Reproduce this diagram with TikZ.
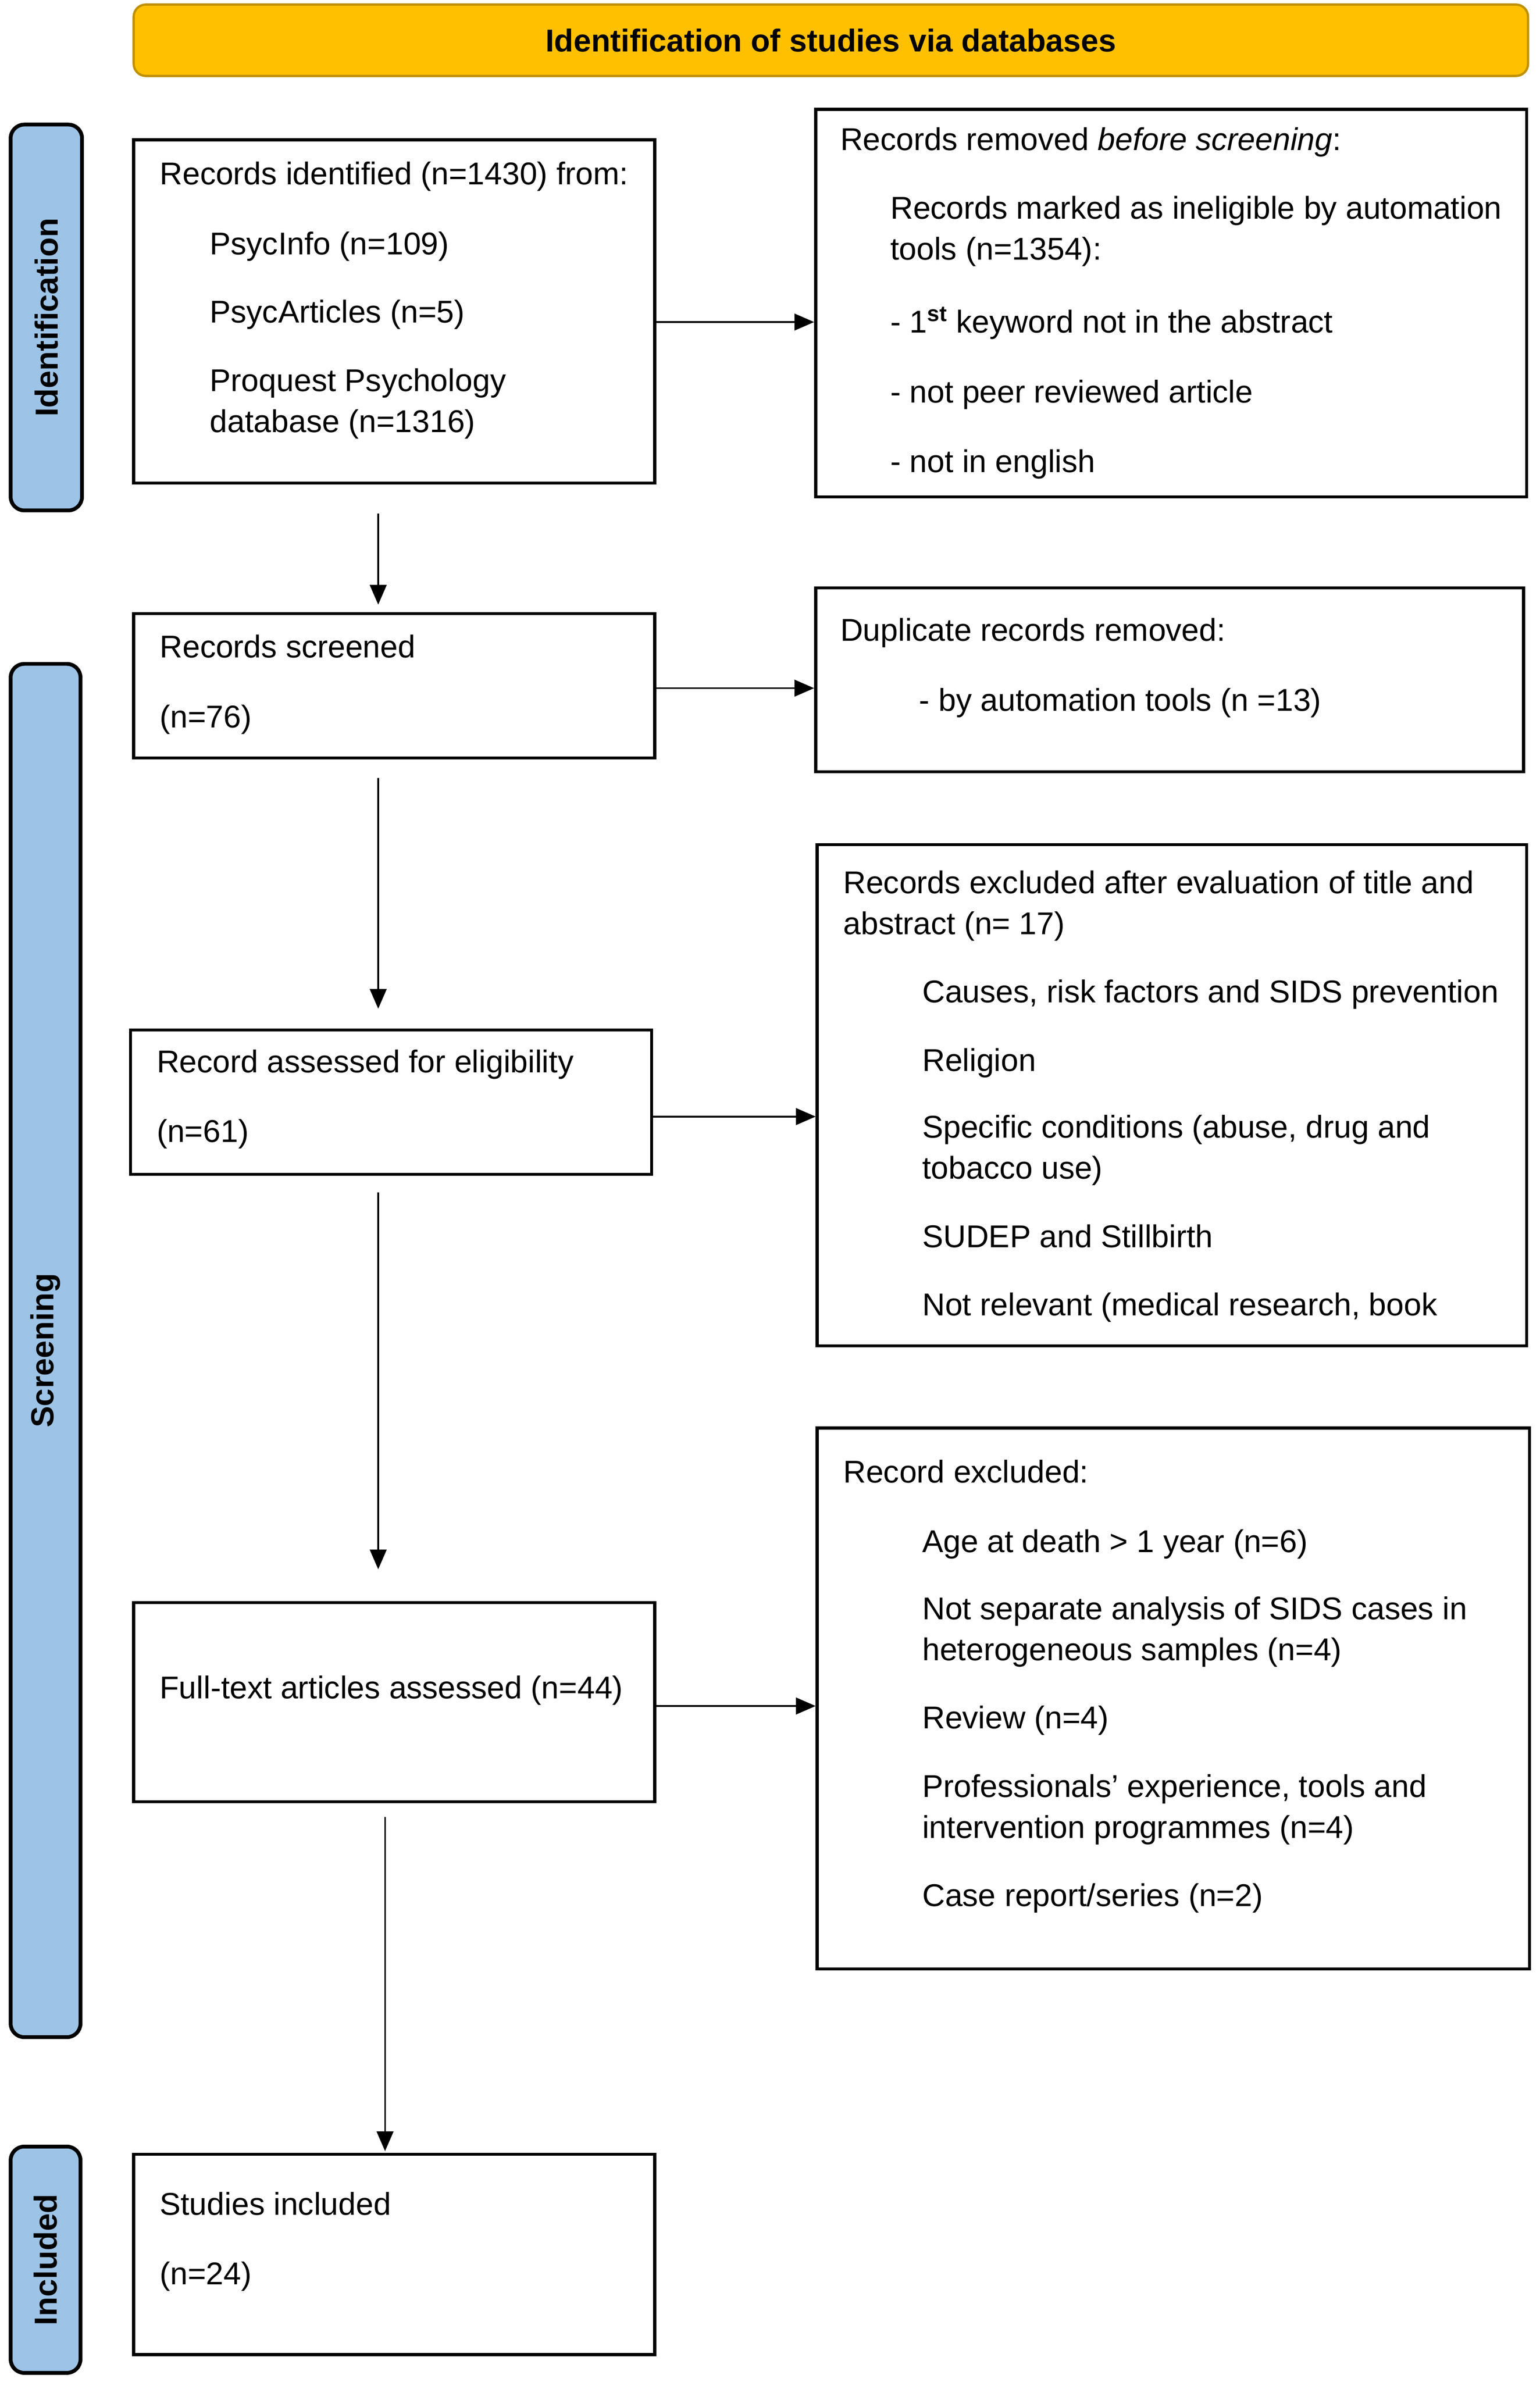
\documentclass[tikz,border=0pt]{standalone}
\usepackage{fontspec}
\setmainfont{Liberation Sans}
\usetikzlibrary{arrows.meta,calc}
\definecolor{gold}{HTML}{FFC000}
\definecolor{goldline}{HTML}{BF9000}
\definecolor{sideblue}{HTML}{9DC3E6}
\begin{document}
\begin{tikzpicture}[x=1pt,y=-1pt,
  box/.style={draw=black, line width=2pt, rectangle, inner sep=0pt, fill=white},
  banner/.style={draw=goldline, line width=1.5pt, fill=gold, rounded corners=8pt, inner sep=0pt,
    minimum width=918pt, minimum height=47pt, font=\fontsize{20.8}{25}\selectfont\bfseries},
  side/.style={draw=black, line width=2.5pt, fill=sideblue, rounded corners=9pt, inner sep=0pt,
    rotate=90, font=\fontsize{21}{25}\selectfont\bfseries},
  txt/.style={anchor=base west, inner sep=0pt, font=\fontsize{20.75}{27}\selectfont},
  arr/.style={-{Triangle[length=13pt,width=11pt]}, line width=1.1pt},
]
\useasboundingbox (0,0) rectangle (1013.66,1568);

% banner
\node[banner] (top) at (547,26.5) {Identification of studies via databases};

% side bars
\node[side, minimum width=254pt, minimum height=47pt] (sid) at (30.5,209) {Identification};
\node[side, minimum width=904pt, minimum height=46pt] (sscr) at (30,889) {Screening};
\node[side, minimum width=149pt, minimum height=46pt] (sinc) at (30,1487.5) {Included};

% left boxes
\node[box, minimum width=343pt, minimum height=226pt] (b1) at (259.5,205) {};
\node[box, minimum width=343pt, minimum height=95pt] (b2) at (259.5,451.5) {};
\node[box, minimum width=343pt, minimum height=95pt] (b3) at (257.5,725.5) {};
\node[box, minimum width=343pt, minimum height=131pt] (b4) at (259.5,1120.5) {};
\node[box, minimum width=343pt, minimum height=132pt] (b5) at (259.5,1484) {};

% right boxes
\node[box, minimum width=468pt, minimum height=255pt] (r1) at (771,199.5) {};
\node[box, minimum width=466pt, minimum height=121pt] (r2) at (770,447.5) {};
\node[box, minimum width=467pt, minimum height=330pt] (r3) at (771.5,721) {};
\node[box, minimum width=469pt, minimum height=356pt] (r4) at (772.5,1118) {};

% texts
\node[txt] (b1t) at (105,121.5) {\begin{tabular}[t]{@{}l@{}}
Records identified (n=1430) from:\\[19pt]
\hspace*{33pt}PsycInfo (n=109)\\[18pt]
\hspace*{33pt}PsycArticles (n=5)\\[18pt]
\hspace*{33pt}Proquest Psychology\\
\hspace*{33pt}database (n=1316)
\end{tabular}};

\node[txt] (b2t) at (105,433) {\begin{tabular}[t]{@{}l@{}}
Records screened\\[19pt]
(n=76)
\end{tabular}};

\node[txt] (b3t) at (103,706) {\begin{tabular}[t]{@{}l@{}}
Record assessed for eligibility\\[19pt]
(n=61)
\end{tabular}};

\node[txt] (b4t) at (105,1118) {Full-text articles assessed (n=44)};

\node[txt] (b5t) at (105,1458) {\begin{tabular}[t]{@{}l@{}}
Studies included\\[19pt]
(n=24)
\end{tabular}};

\node[txt] (r1t) at (553,99) {\begin{tabular}[t]{@{}l@{}}
Records removed \textit{before screening}:\\[18pt]
\hspace*{33pt}Records marked as ineligible by automation\\
\hspace*{33pt}tools (n=1354):\\[21pt]
\hspace*{33pt}- 1\textsuperscript{\textbf{st}} keyword not in the abstract\\[19pt]
\hspace*{33pt}- not peer reviewed article\\[19pt]
\hspace*{33pt}- not in english
\end{tabular}};

\node[txt] (r2t) at (553,422) {\begin{tabular}[t]{@{}l@{}}
Duplicate records removed:\\[19pt]
\hspace*{52pt}- by automation tools (n =13)
\end{tabular}};

\node[txt] (r3t) at (555,588) {\begin{tabular}[t]{@{}l@{}}
Records excluded after evaluation of title and\\
abstract (n= 17)\\[18pt]
\hspace*{52pt}Causes, risk factors and SIDS prevention\\[18pt]
\hspace*{52pt}Religion\\[17pt]
\hspace*{52pt}Specific conditions (abuse, drug and\\
\hspace*{52pt}tobacco use)\\[18pt]
\hspace*{52pt}SUDEP and Stillbirth\\[18pt]
\hspace*{52pt}Not relevant (medical research, book
\end{tabular}};

\node[txt] (r4t) at (555,976) {\begin{tabular}[t]{@{}l@{}}
Record excluded:\\[19pt]
\hspace*{52pt}Age at death > 1 year (n=6)\\[17pt]
\hspace*{52pt}Not separate analysis of SIDS cases in\\
\hspace*{52pt}heterogeneous samples (n=4)\\[18pt]
\hspace*{52pt}Review (n=4)\\[18pt]
\hspace*{52pt}Professionals’ experience, tools and\\
\hspace*{52pt}intervention programmes (n=4)\\[18pt]
\hspace*{52pt}Case report/series (n=2)
\end{tabular}};

% horizontal connectors
\coordinate (h1s) at ([yshift=-7pt]b1.east);
\draw[arr] (h1s) -- (h1s -| r1.west);
\coordinate (h2s) at ([yshift=-1.5pt]b2.east);
\draw[arr] (h2s) -- (h2s -| r2.west);
\coordinate (h3s) at ([yshift=-9.5pt]b3.east);
\draw[arr] (h3s) -- (h3s -| r3.west);
\coordinate (h4s) at ([yshift=-2.5pt]b4.east);
\draw[arr] (h4s) -- (h4s -| r4.west);

% vertical connectors
\coordinate (v1s) at ([xshift=-10.5pt]b1.south);
\draw[arr, shorten <=19pt, shorten >=5pt] (v1s) -- (v1s |- b2.north);
\coordinate (v2s) at ([xshift=-10.5pt]b2.south);
\draw[arr, shorten <=12pt, shorten >=13pt] (v2s) -- (v2s |- b3.north);
\coordinate (v3s) at ([xshift=-8.5pt]b3.south);
\draw[arr, shorten <=11pt, shorten >=21pt] (v3s) -- (v3s |- b4.north);
\coordinate (v4s) at ([xshift=-6pt]b4.south);
\draw[arr, shorten <=9pt, shorten >=1pt] (v4s) -- (v4s |- b5.north);
\end{tikzpicture}
\end{document}
